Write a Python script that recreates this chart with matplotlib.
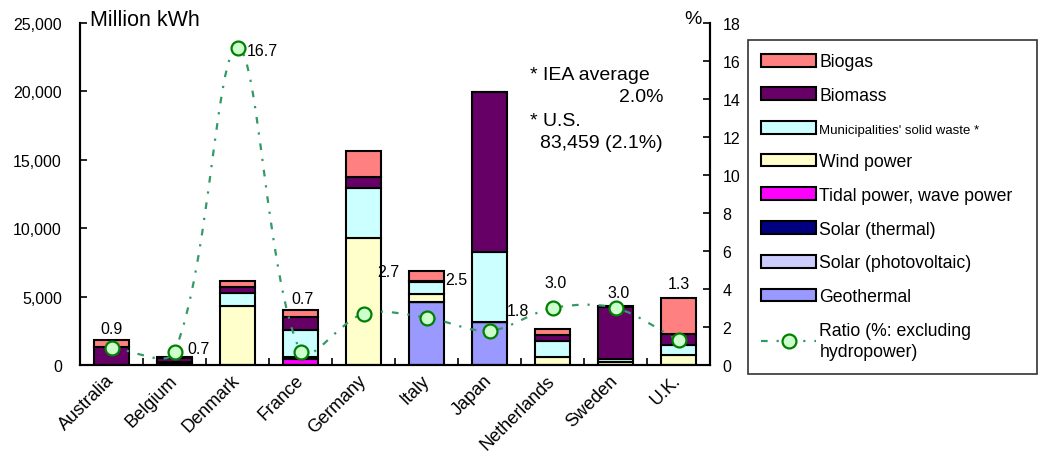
import numpy as np
import matplotlib.pyplot as plt
from matplotlib.patches import Patch, PathPatch
from matplotlib.lines import Line2D
from matplotlib.path import Path

plt.rcParams['font.family'] = ['Liberation Sans', 'DejaVu Sans']

countries = ["Australia", "Belgium", "Denmark", "France", "Germany",
             "Italy", "Japan", "Netherlands", "Sweden", "U.K."]

# Million kWh by source, stacked bottom to top
geothermal    = [0, 0, 0, 0, 0, 4630, 3170, 0, 0, 0]
solar_pv      = [0, 0, 0, 0, 0, 0, 0, 0, 0, 0]
solar_thermal = [0, 0, 0, 0, 0, 0, 0, 0, 0, 0]
tidal         = [0, 0, 0, 450, 0, 0, 0, 0, 0, 0]
wind          = [0, 100, 4340, 150, 9280, 560, 0, 610, 250, 750]
waste         = [0, 150, 950, 1950, 3650, 850, 5120, 1170, 200, 710]
biomass       = [1300, 250, 440, 950, 830, 100, 11650, 420, 3780, 800]
biogas        = [550, 60, 390, 540, 1850, 750, 0, 420, 60, 2630]

# share of generation excluding hydropower (%)
ratio = [0.9, 0.7, 16.7, 0.7, 2.7, 2.5, 1.8, 3.0, 3.0, 1.3]

layers = [
    ("Geothermal", geothermal, "#9999FF"),
    ("Solar (photovoltaic)", solar_pv, "#CCCCFF"),
    ("Solar (thermal)", solar_thermal, "#000080"),
    ("Tidal power, wave power", tidal, "#FF00FF"),
    ("Wind power", wind, "#FFFFCC"),
    ("Municipalities' solid waste *", waste, "#CCFFFF"),
    ("Biomass", biomass, "#660066"),
    ("Biogas", biogas, "#FF8080"),
]

LINE_COLOR = "#339966"
LINE_STYLE = (0, (3, 4, 1, 4))

fig = plt.figure(figsize=(10.4, 4.52), dpi=100)
ax = fig.add_axes([80 / 1040, 1 - 366 / 452, 630 / 1040, 342 / 452])
ax2 = ax.twinx()

x = np.arange(len(countries))
bottom = np.zeros(len(countries))
for name, vals, color in layers:
    ax.bar(x, vals, width=0.54, bottom=bottom, color=color,
           edgecolor="black", linewidth=1.5, zorder=2)
    bottom += np.array(vals)

ax.set_xlim(-0.5, 9.5)
ax.set_ylim(0, 25000)
ax.set_yticks(range(0, 25001, 5000))
ax.set_yticklabels([f"{v:,}" for v in range(0, 25001, 5000)])
ax.tick_params(axis="y", direction="in", length=5, width=1.2, pad=13, labelsize=11.5)
ax.set_xticks(x)
ax.set_xticklabels(countries, rotation=45, ha="right", va="center",
                   rotation_mode="anchor", fontsize=13)
ax.tick_params(axis="x", which="major", length=0, pad=9)
ax.set_xticks(np.arange(0.5, 9.5, 1), minor=True)
ax.tick_params(axis="x", which="minor", direction="in", length=5, width=1.2)

ax2.set_ylim(0, 18)
ax2.set_yticks(range(0, 19, 2))
ax2.tick_params(axis="y", direction="in", length=5, width=1.2, pad=9, labelsize=11.5)

for a in (ax, ax2):
    a.spines["top"].set_visible(False)
    for s in ("left", "right", "bottom"):
        a.spines[s].set_linewidth(1.5)

# smoothed ratio curve: cubic Bezier segments, tangents weighted by
# on-screen segment lengths so short flat runs do not overshoot
px_per = np.array([63.0, 342 / 18])
pts = np.column_stack([x, ratio]).astype(float)
n = len(pts)


def seg_len(a, b):
    return np.hypot(*((b - a) * px_per))


verts = [tuple(pts[0])]
codes = [Path.MOVETO]
for i in range(n - 1):
    p0 = pts[max(i - 1, 0)]
    p1 = pts[i]
    p2 = pts[i + 1]
    p3 = pts[min(i + 2, n - 1)]
    d01, d12, d23 = seg_len(p0, p1), seg_len(p1, p2), seg_len(p2, p3)
    c1 = p1 + (p2 - p0) * d12 / (d01 + d12) / 3
    c2 = p2 - (p3 - p1) * d12 / (d12 + d23) / 3
    verts += [tuple(c1), tuple(c2), tuple(p2)]
    codes += [Path.CURVE4] * 3
curve = PathPatch(Path(verts, codes), facecolor="none", edgecolor=LINE_COLOR,
                  linewidth=1.6, linestyle=LINE_STYLE, zorder=3)
ax2.add_patch(curve)
ax2.plot(x, ratio, linestyle="none", marker="o", markersize=10,
         markerfacecolor="#CCFFCC", markeredgecolor="#008000",
         markeredgewidth=1.6, zorder=4)

label_offsets = [(0, 19, "center"), (13, 3, "left"), (9, -3, "left"),
                 (2, 53, "center"), (25, 42, "center"), (30, 38, "center"),
                 (28, 20, "center"), (3, 25, "center"), (3, 16, "center"),
                 (0, 57, "center")]
for xi, r, (dx, dy, ha) in zip(x, ratio, label_offsets):
    ax2.annotate(f"{r:.1f}", (xi, r), xytext=(dx, dy), textcoords="offset pixels",
                 ha=ha, va="center", fontsize=11.5, zorder=5)

fig.text(90 / 1040, 1 - 20 / 452, "Million kWh", ha="left", va="center", fontsize=15.5)
fig.text(693 / 1040, 1 - 19 / 452, "%", ha="center", va="center", fontsize=14)

fig.text(530 / 1040, 1 - 75 / 452, "* IEA average", ha="left", va="center", fontsize=14)
fig.text(663 / 1040, 1 - 98 / 452, "2.0%", ha="right", va="center", fontsize=14)
fig.text(530 / 1040, 1 - 121 / 452, "* U.S.", ha="left", va="center", fontsize=14)
fig.text(540 / 1040, 1 - 144 / 452, "83,459 (2.1%)", ha="left", va="center", fontsize=14)

handles = [Patch(facecolor=c, edgecolor="black", linewidth=1.5, label=name)
           for name, _, c in reversed(layers)]
handles.append(Line2D([], [], color=LINE_COLOR, linestyle=LINE_STYLE, linewidth=1.6,
                      marker="o", markersize=10, markerfacecolor="#CCFFCC",
                      markeredgecolor="#008000", markeredgewidth=1.6,
                      label="Ratio (%: excluding\nhydropower)"))
leg = fig.legend(handles=handles, loc="upper left",
                 bbox_to_anchor=(748 / 1040, 1 - 41 / 452, 289 / 1040, 0),
                 mode="expand", fontsize=12.7, frameon=True, fancybox=False,
                 handlelength=3.1, handleheight=0.75, handletextpad=0.2,
                 labelspacing=0.95, borderpad=0.75, borderaxespad=0, numpoints=1)
leg.get_frame().set_edgecolor("black")
leg.get_frame().set_linewidth(1.2)
texts = leg.get_texts()
texts[2].set_fontsize(9.5)
texts[-1].set_linespacing(1.35)

fig.savefig("out.png", dpi=100)
